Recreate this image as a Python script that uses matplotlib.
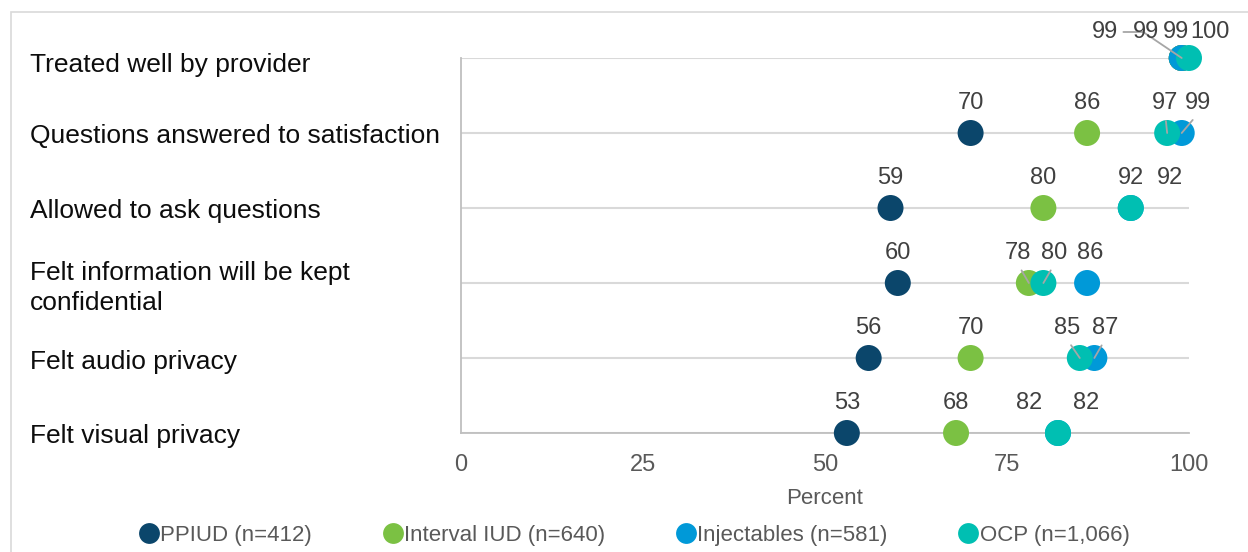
import matplotlib
matplotlib.use("Agg")
import matplotlib.pyplot as plt
import matplotlib.transforms as mtransforms
from matplotlib.lines import Line2D
from matplotlib.patches import Rectangle

plt.rcParams["font.family"] = ["Liberation Sans", "DejaVu Sans"]

# ---- data ---------------------------------------------------------------
categories = [
    "Treated well by provider",
    "Questions answered to satisfaction",
    "Allowed to ask questions",
    "Felt information will be kept\nconfidential",
    "Felt audio privacy",
    "Felt visual privacy",
]
series_names = ["PPIUD (n=412)", "Interval IUD (n=640)",
                "Injectables (n=581)", "OCP (n=1,066)"]
ppiud = [99, 70, 59, 60, 56, 53]
interval_iud = [99, 86, 80, 78, 70, 68]
injectables = [99, 99, 92, 86, 87, 82]
ocp = [100, 97, 92, 80, 85, 82]
x_ticks = [0, 25, 50, 75, 100]

# ---- styling ------------------------------------------------------------
colors = ["#0B466B", "#7BC143", "#0099D8", "#00BFB2"]
series = [ppiud, interval_iud, injectables, ocp]

# label offsets in pixels (dx, dy above the dot) and leader style
default_off = (0, 30, None)
label_layout = {
    (0, 0): (-77, 26, "elbow"),
    (0, 1): (-36, 26, None),
    (0, 2): (-6, 26, None),
    (0, 3): (21, 26, None),
    (1, 2): (16, 30, "straight"),
    (1, 3): (-2, 30, "straight"),
    (2, 3): (39, 30, None),
    (3, 1): (-11, 30, "straight"),
    (3, 2): (3, 30, None),
    (3, 3): (11, 30, "straight"),
    (4, 2): (11, 30, "straight"),
    (4, 3): (-13, 30, "straight"),
    (5, 2): (-29, 30, None),
    (5, 3): (28, 30, None),
}
# extra downward shift (pixels) of each category label
cat_shift = [7, 3, 3, 5, 4, 3]

W, H, DPI = 1248, 552, 100
fig = plt.figure(figsize=(W / DPI, H / DPI), dpi=DPI)
fig.patch.set_facecolor("white")

# chart-area border (top and left edges visible)
fig.add_artist(Rectangle((11 / W, -0.2), 1.5, (H - 12) / H + 0.2,
                         transform=fig.transFigure, fill=False,
                         edgecolor="#D9D9D9", linewidth=1.2))

ax_left, ax_right = 461 / W, 1189 / W
ax_top, ax_bottom = 1 - 58 / H, 1 - 433 / H
ax = fig.add_axes([ax_left, ax_bottom, ax_right - ax_left, ax_top - ax_bottom])

rows = list(range(len(categories)))
ax.set_xlim(0, 100)
ax.set_ylim(len(categories) - 1, 0)

for y in rows:
    ax.axhline(y, color="#D9D9D9", linewidth=1.5, zorder=0)

for side in ["top", "right"]:
    ax.spines[side].set_visible(False)
for side in ["left", "bottom"]:
    ax.spines[side].set_color("#BFBFBF")
    ax.spines[side].set_linewidth(1.3)

ax.set_yticks([])
ax.set_xticks(x_ticks)
ax.tick_params(axis="x", length=0, pad=15, labelsize=17, labelcolor="#595959")

# points
for i, (vals, col, name) in enumerate(zip(series, colors, series_names)):
    ax.scatter(vals, rows, s=350, color=col, edgecolors="none",
               zorder=3 + i, clip_on=False, label=name)

# data labels
for r in rows:
    for i, vals in enumerate(series):
        dx, dy, leader = label_layout.get((r, i), default_off)
        v = vals[r]
        kw = dict(xy=(v, r), xytext=(dx, dy), textcoords="offset pixels",
                  ha="center", va="center", fontsize=17, color="#404040",
                  zorder=10, annotation_clip=False)
        if leader is not None:
            if leader == "elbow":
                cs, rel, sa = "angle,angleA=0,angleB=-34,rad=0", (1.0, 0.5), 2
            else:
                cs, rel, sa = "arc3", (0.5, 0.0), 3
            kw["arrowprops"] = dict(arrowstyle="-", color="#A6A6A6",
                                    linewidth=1.3, shrinkA=sa, shrinkB=0,
                                    relpos=rel, connectionstyle=cs)
        ax.annotate(f"{v}", **kw)

# category labels, left aligned in the chart area
base_tr = mtransforms.blended_transform_factory(fig.transFigure, ax.transData)
for r, name in zip(rows, categories):
    tr = base_tr + mtransforms.ScaledTranslation(0, -cat_shift[r] / DPI,
                                                 fig.dpi_scale_trans)
    fig.text(30 / W, r, name, transform=tr, ha="left", va="center",
             fontsize=19, color="#0D0D0D", linespacing=1.27)

# axis title
fig.text((ax_left + ax_right) / 2, 1 - 499 / H, "Percent", ha="center",
         va="center", fontsize=16, color="#595959")

# legend
handles = [Line2D([], [], marker="o", linestyle="none", markersize=15,
                  markerfacecolor=c, markeredgecolor="none") for c in colors]
fig.legend(handles, series_names, loc="center", ncol=4,
           bbox_to_anchor=(634 / W, 1 - 535 / H), frameon=False,
           fontsize=16, labelcolor="#595959", handlelength=0.9,
           handletextpad=0.05, columnspacing=3.2, borderpad=0)

fig.savefig("out.png", dpi=DPI, facecolor="white")
